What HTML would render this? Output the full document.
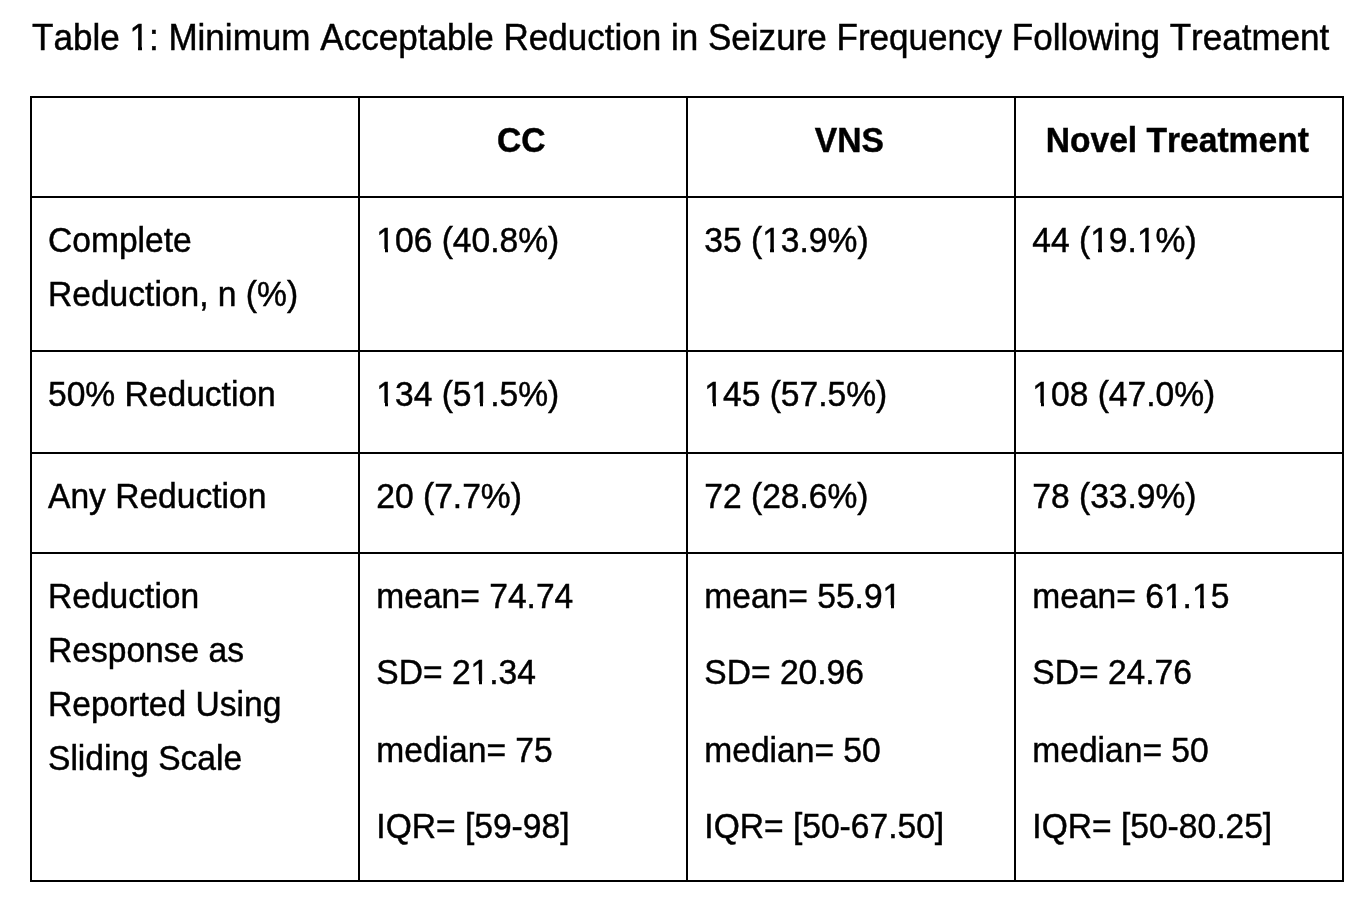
<!DOCTYPE html>
<html><head><meta charset="utf-8">
<style>
html,body{margin:0;padding:0;background:#fff;}
body{width:1364px;height:902px;position:relative;overflow:hidden;font-family:"Liberation Sans",sans-serif;color:#000;font-kerning:none;}
#w{position:absolute;left:0;top:0;width:1364px;height:902px;will-change:transform;}
.h{position:absolute;height:2px;background:#000;left:30px;width:1314px;}
.v{position:absolute;width:2px;background:#000;top:96px;height:786px;}
.t{position:absolute;white-space:nowrap;font-size:33.6px;line-height:40px;height:40px;-webkit-text-stroke:0.45px #000;transform-origin:0 31px;transform:scaleY(1.03);}
.b{font-weight:bold;}
.o{position:relative;}
.o::before,.o::after{content:'';position:absolute;background:#fff;bottom:6.5px;height:3.4px;}
.o::before{left:0.04em;width:0.205em;}
.o::after{left:0.347em;width:0.21em;}
.c{text-align:center;width:326px;}
.title{position:absolute;white-space:nowrap;font-size:35.05px;line-height:40px;height:40px;-webkit-text-stroke:0.45px #000;transform-origin:0 32px;transform:scaleY(1.03);}
</style></head><body><div id="w">
<div class="title" style="left:32px;top:18px">Table <span class="o">1</span>: Minimum Acceptable Reduction in Seizure Frequency Following Treatment</div>
<div class="h" style="top:96px"></div>
<div class="h" style="top:196px"></div>
<div class="h" style="top:350px"></div>
<div class="h" style="top:452px"></div>
<div class="h" style="top:552px"></div>
<div class="h" style="top:880px"></div>
<div class="v" style="left:30px"></div>
<div class="v" style="left:358px"></div>
<div class="v" style="left:686px"></div>
<div class="v" style="left:1014px"></div>
<div class="v" style="left:1342px"></div>
<div class="t b c" style="left:358.3px;top:121px">CC</div>
<div class="t b c" style="left:686.3px;top:121px">VNS</div>
<div class="t b c" style="left:1014.3px;top:121px">Novel Treatment</div>
<div class="t" style="left:48px;top:221px">Complete</div>
<div class="t" style="left:48px;top:275px">Reduction, n (%)</div>
<div class="t" style="left:376.3px;top:221px"><span class="o">1</span>06 (40.8%)</div>
<div class="t" style="left:704.3px;top:221px">35 (<span class="o">1</span>3.9%)</div>
<div class="t" style="left:1032.3px;top:221px">44 (<span class="o">1</span>9.<span class="o">1</span>%)</div>
<div class="t" style="left:48px;top:375px">50% Reduction</div>
<div class="t" style="left:376.3px;top:375px"><span class="o">1</span>34 (5<span class="o">1</span>.5%)</div>
<div class="t" style="left:704.3px;top:375px"><span class="o">1</span>45 (57.5%)</div>
<div class="t" style="left:1032.3px;top:375px"><span class="o">1</span>08 (47.0%)</div>
<div class="t" style="left:48px;top:477px">Any Reduction</div>
<div class="t" style="left:376.3px;top:477px">20 (7.7%)</div>
<div class="t" style="left:704.3px;top:477px">72 (28.6%)</div>
<div class="t" style="left:1032.3px;top:477px">78 (33.9%)</div>
<div class="t" style="left:48px;top:577px">Reduction</div>
<div class="t" style="left:48px;top:631px">Response as</div>
<div class="t" style="left:48px;top:685px">Reported Using</div>
<div class="t" style="left:48px;top:739px">Sliding Scale</div>
<div class="t" style="left:376.3px;top:577px">mean= 74.74</div>
<div class="t" style="left:376.3px;top:653px">SD= 2<span class="o">1</span>.34</div>
<div class="t" style="left:376.3px;top:731px">median= 75</div>
<div class="t" style="left:376.3px;top:807px">IQR= [59-98]</div>
<div class="t" style="left:704.3px;top:577px">mean= 55.9<span class="o">1</span></div>
<div class="t" style="left:704.3px;top:653px">SD= 20.96</div>
<div class="t" style="left:704.3px;top:731px">median= 50</div>
<div class="t" style="left:704.3px;top:807px">IQR= [50-67.50]</div>
<div class="t" style="left:1032.3px;top:577px">mean= 6<span class="o">1</span>.<span class="o">1</span>5</div>
<div class="t" style="left:1032.3px;top:653px">SD= 24.76</div>
<div class="t" style="left:1032.3px;top:731px">median= 50</div>
<div class="t" style="left:1032.3px;top:807px">IQR= [50-80.25]</div>
</div></body></html>
